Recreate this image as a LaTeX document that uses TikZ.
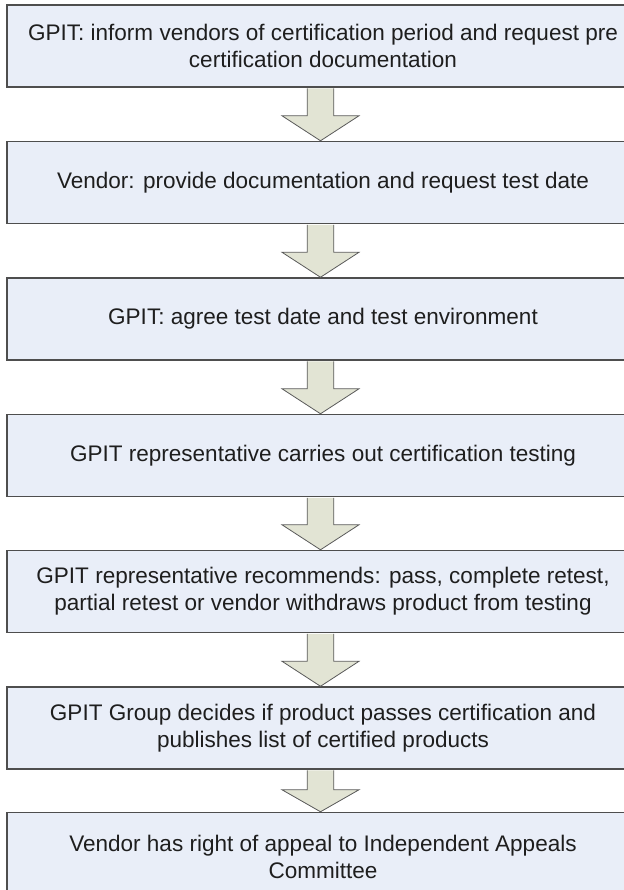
\documentclass[tikz,border=0pt]{standalone}
\usepackage{fontspec}
\setmainfont{Liberation Sans}
\usetikzlibrary{calc}
\definecolor{boxfill}{RGB}{233,238,248}
\definecolor{boxline}{RGB}{78,78,78}
\definecolor{arrowfill}{RGB}{226,228,212}
\definecolor{arrowline}{RGB}{90,90,90}
\definecolor{txt}{RGB}{30,30,30}

\begin{document}
\begin{tikzpicture}[x=0.75pt,y=0.75pt,yscale=-1,xscale=1,
  stepbox/.style={draw=boxline, line width=1.1pt, fill=boxfill, text=txt,
    minimum width=474pt, minimum height=61.5pt, inner sep=0pt, align=center,
    font=\fontsize{16.9pt}{20.3pt}\selectfont},
  blockarrow/.style={draw=arrowline, line width=0.6pt, fill=arrowfill}]
\useasboundingbox (0,0) rectangle (624,890);
%Steps
\node[stepbox] (s1) at (323,46) {GPIT: inform vendors of certification period and request pre\\certification documentation};
\node[stepbox] (s2) at (323,182.5) {Vendor: provide documentation and request test date};
\node[stepbox] (s3) at (323,319) {GPIT: agree test date and test environment};
\node[stepbox] (s4) at (323,455.5) {GPIT representative carries out certification testing};
\node[stepbox] (s5) at (323,591.5) {GPIT representative recommends: pass, complete retest,\\partial retest or vendor withdraws product from testing};
\node[stepbox] (s6) at (323,728) {GPIT Group decides if product passes certification and\\publishes list of certified products};
\node[stepbox, minimum height=66pt] (s7) at (323,856.5) {Vendor has right of appeal to Independent Appeals\\Committee};
%Block arrows
\foreach \a/\b/\h in {s1/s2/25,s2/s3/25,s3/s4/25,s4/s5/25,s5/s6/25,s6/s7/22}
  \draw[blockarrow] ($(\a.south)+(-15.8,0.7)$) -- ($(\b.north)+(-15.8,-\h)$) -- ($(\b.north)+(-41,-\h)$)
    -- ($(\b.north)+(-2.5,0)$) -- ($(\b.north)+(36,-\h)$) -- ($(\b.north)+(10.8,-\h)$) -- ($(\a.south)+(10.8,0.7)$);
\end{tikzpicture}
\end{document}
